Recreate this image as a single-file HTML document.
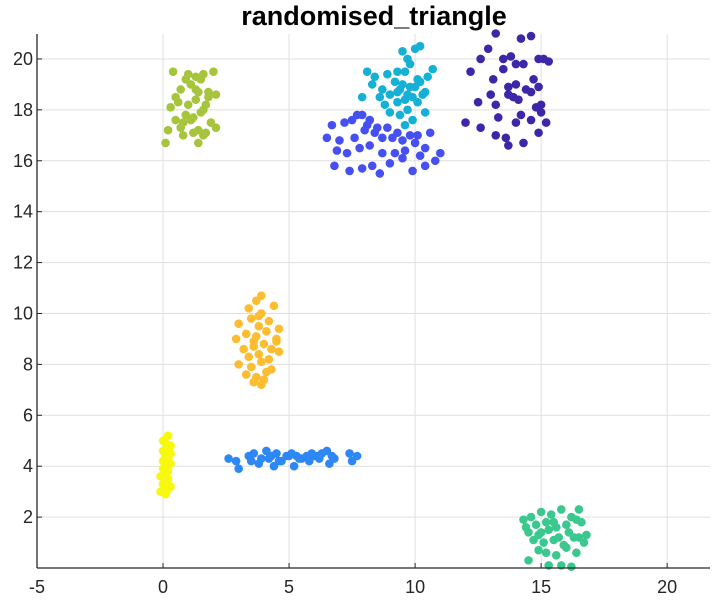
<!DOCTYPE html>
<html><head><meta charset="utf-8"><style>
body{margin:0;background:#fff;width:715px;height:602px;overflow:hidden}
text{font-family:"Liberation Sans",sans-serif}
</style></head><body>
<svg id="chart" width="715" height="602" xmlns="http://www.w3.org/2000/svg">
<text x="374" y="25" text-anchor="middle" font-size="27" font-weight="bold" fill="#000">randomised_triangle</text>
<g id="grid"></g>
<g id="pts"></g>
<g id="axes"></g>
</svg>
<script>
const xTicks=[-5,0,5,10,15,20];
const yTicks=[2,4,6,8,10,12,14,16,18,20];
const clusterNames=['purple','cyan','violet','lime','orange','yellow','blue','teal'];
const clusterColors=['#3e26a8','#15b0d6','#4650f0','#a6c43c','#fdbd30','#f8f80f','#2d88f6','#3ac88f'];
const purpleX=[13.2,14.2,14.6,14.9,15.1,12.6,13.5,13.8,14.0,14.3,14.7,15.3,12.2,13.1,13.7,14.4,14.9,12.5,13.2,13.7,14.1,14.8,15.0,12.0,13.3,14.0,14.6,15.2,13.2,13.6,14.3,14.9,12.6,13.9,14.6,13.5,14.0,13.0,12.9,15.0,14.2,13.7];
const purpleY=[21.0,20.8,20.9,20.0,20.0,20.0,20.0,20.1,19.8,19.8,19.2,19.9,19.5,19.2,18.9,18.8,18.9,18.3,18.2,18.6,18.4,18.1,18.2,17.5,17.7,17.5,17.6,17.5,17.0,16.9,16.7,17.1,17.3,18.5,18.7,19.6,19.0,18.6,20.4,17.9,17.8,16.6];
const cyanX=[9.5,9.7,10.0,10.2,8.1,8.4,8.9,9.3,9.6,10.1,10.5,10.7,8.3,8.7,9.2,9.5,9.8,10.2,10.4,7.9,8.6,9.0,9.4,9.7,10.0,10.3,8.8,9.3,9.6,9.9,9.0,9.4,9.7,10.4,8.2,9.6,9.9,9.3,9.8,10.1];
const cyanY=[20.3,20.0,20.4,20.5,19.5,19.3,19.4,19.5,19.5,19.2,19.3,19.6,19.0,18.8,19.1,19.0,18.9,19.1,18.7,18.5,18.5,18.6,18.8,18.6,18.9,18.6,18.2,18.3,18.4,18.5,17.9,17.8,18.0,17.9,17.6,17.4,17.6,18.7,19.8,18.3];
const violetX=[6.7,7.2,7.5,7.9,8.2,8.5,8.9,9.3,9.8,10.1,10.6,6.5,7.0,7.6,8.0,8.4,8.7,9.1,9.5,10.0,10.4,6.9,7.3,7.8,8.2,8.7,9.2,9.6,10.2,10.8,6.8,7.4,7.9,8.3,8.6,9.0,9.5,9.9,10.4,11.0,7.7,8.1];
const violetY=[17.4,17.5,17.6,17.8,17.6,17.3,17.3,17.1,17.0,17.0,17.1,16.9,16.8,16.9,17.2,17.1,16.9,16.9,16.8,16.7,16.5,16.4,16.3,16.5,16.6,16.3,16.3,16.4,16.2,16.0,15.8,15.6,15.7,15.8,15.5,15.9,16.1,15.6,15.8,16.3,17.8,17.4];
const limeX=[0.4,0.9,1.3,1.6,2.0,0.7,1.1,1.4,1.8,0.3,0.6,1.0,1.3,1.6,2.1,0.5,0.9,1.2,1.5,1.9,0.2,0.7,1.1,1.4,1.7,2.1,0.8,1.2,1.6,0.1,0.5,1.3,1.8,1.0,1.5,0.8,1.4,1.7];
const limeY=[19.5,19.2,19.3,19.4,19.5,18.8,19.0,18.7,18.5,18.1,18.3,18.2,18.4,18.0,18.6,17.6,17.8,17.7,17.9,17.5,17.2,17.3,17.6,17.2,17.1,17.3,17.0,17.1,17.0,16.7,18.5,18.8,18.7,19.4,19.2,17.5,16.7,18.2];
const orangeX=[3.7,3.9,3.4,3.9,4.4,3.0,3.5,3.8,4.2,4.6,2.9,3.3,3.7,4.1,4.5,3.2,3.6,4.0,4.3,3.4,3.8,4.2,4.6,3.0,3.5,3.9,4.3,3.3,3.7,4.1,3.6,4.0,3.8,4.5,3.6,3.9];
const orangeY=[10.5,10.7,10.2,10.0,10.3,9.6,9.8,9.5,9.7,9.4,9.0,9.2,9.1,9.3,9.0,8.6,8.7,8.8,8.6,8.3,8.4,8.2,8.5,8.0,7.9,8.1,7.8,7.6,7.5,7.7,7.3,7.4,9.9,8.9,8.9,7.2];
const yellowX=[0.0,0.2,0.1,0.3,0.0,0.2,0.1,0.3,0.0,0.2,0.1,0.3,0.0,0.2,-0.1,0.1,0.2,0.0,0.3,-0.1,0.1,0.2];
const yellowY=[5.0,5.2,4.9,4.8,4.6,4.7,4.4,4.5,4.2,4.3,4.0,4.1,3.9,3.8,3.6,3.7,3.5,3.3,3.2,3.0,2.9,3.1];
const blueX=[2.6,2.9,3.0,3.4,3.6,3.9,4.1,4.3,4.5,4.7,4.9,5.1,5.3,5.5,5.7,5.9,6.1,6.3,6.5,6.7,6.8,3.5,3.8,4.2,4.6,5.0,5.4,5.8,6.2,6.6,7.4,7.5,7.7,4.4,5.2,6.0];
const blueY=[4.3,4.2,3.9,4.4,4.5,4.3,4.6,4.4,4.5,4.2,4.4,4.5,4.4,4.3,4.4,4.5,4.4,4.5,4.6,4.4,4.3,4.2,4.1,4.3,4.2,4.4,4.3,4.2,4.3,4.1,4.5,4.2,4.4,4.0,4.0,4.4];
const tealX=[14.3,14.6,15.0,15.4,15.8,16.2,16.5,14.4,14.8,15.2,15.6,16.0,16.4,16.8,14.5,14.9,15.3,15.7,16.1,16.5,14.7,15.1,15.5,15.9,16.3,16.7,14.9,15.2,15.6,16.0,16.4,14.5,15.3,15.8,16.2,15.5,15.0,16.6];
const tealY=[1.9,2.0,2.2,2.1,2.3,2.0,2.3,1.6,1.7,1.8,1.6,1.7,1.9,1.3,1.4,1.3,1.5,1.2,1.4,1.2,1.1,1.0,1.1,0.9,1.2,1.0,0.7,0.6,0.5,0.8,0.6,0.3,0.1,0.1,0.05,1.8,1.4,1.8];
const allX=[purpleX,cyanX,violetX,limeX,orangeX,yellowX,blueX,tealX];
const allY=[purpleY,cyanY,violetY,limeY,orangeY,yellowY,blueY,tealY];
const L=37,R=710,T=34,B=568,xmin=-5,xmax=21.7,ymin=0,ymax=20.98;
const sx=v=>L+(v-xmin)/(xmax-xmin)*(R-L);
const sy=v=>B-(v-ymin)/(ymax-ymin)*(B-T);
const NS='http://www.w3.org/2000/svg';
const mk=(t,a,p)=>{const e=document.createElementNS(NS,t);for(const k in a)e.setAttribute(k,a[k]);p.appendChild(e);return e;};
const grid=document.getElementById('grid'),axes=document.getElementById('axes'),pts=document.getElementById('pts');
xTicks.forEach(v=>{
 const g=mk('line',{x1:sx(v),x2:sx(v),y1:T,y2:B,stroke:'#dfdfdf','stroke-width':1},grid);
 
 
 const tk=mk('line',{x1:sx(v),x2:sx(v),y1:B,y2:B-5,stroke:'#262626'},axes);
 
 
 const t=mk('text',{x:sx(v),y:B+25,'text-anchor':'middle','font-size':18,fill:'#262626'},axes);
 t.textContent=v;
 
 
});
yTicks.forEach(v=>{
 const g=mk('line',{x1:L,x2:R,y1:sy(v),y2:sy(v),stroke:'#dfdfdf','stroke-width':1},grid);
 
 
 const tk=mk('line',{x1:L,x2:L+5,y1:sy(v),y2:sy(v),stroke:'#262626'},axes);
 
 
 const t=mk('text',{x:L-4,y:sy(v)+6,'text-anchor':'end','font-size':18,fill:'#262626'},axes);
 t.textContent=v;
 
 
});
const xa=mk('line',{x1:L,x2:R,y1:B,y2:B,stroke:'#262626','stroke-width':1.3},axes);


const ya=mk('line',{x1:L,x2:L,y1:T,y2:B,stroke:'#262626','stroke-width':1.3},axes);


allX.forEach((xs,c)=>{
 xs.forEach((x,i)=>{
  const p=mk('circle',{cx:sx(x),cy:sy(allY[c][i]),r:4.3,fill:clusterColors[c]},pts);
  
  
 });
});
</script>
</body></html>
